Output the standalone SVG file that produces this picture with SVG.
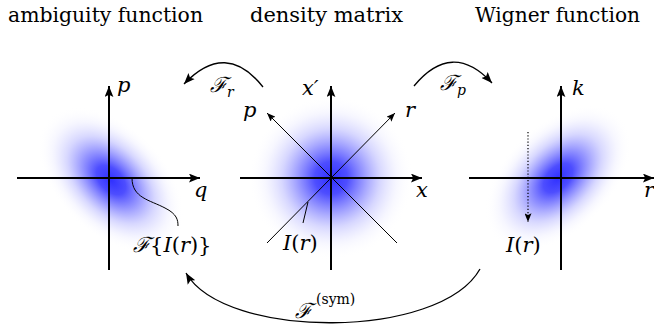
<svg xmlns="http://www.w3.org/2000/svg" width="654" height="327" viewBox="0 0 654 327">
<style>
.title{font-family:'DejaVu Serif',serif;font-size:21px;fill:#000}
.m{font-family:'DejaVu Serif',serif;font-size:21px;font-style:italic;fill:#000}
.up{font-style:normal}
.sub{font-size:14px}
.axis{stroke:#000;stroke-width:2;fill:none}
.thin{stroke:#000;stroke-width:1;fill:none}
.arc{stroke:#000;stroke-width:1.3;fill:none}
</style>
<defs>
<radialGradient id="g">
<stop offset="0" stop-color="#3030ff" stop-opacity="1"/>
<stop offset="0.2" stop-color="#3a3aff" stop-opacity="0.9"/>
<stop offset="0.4" stop-color="#5050ff" stop-opacity="0.58"/>
<stop offset="0.6" stop-color="#7070ff" stop-opacity="0.28"/>
<stop offset="0.8" stop-color="#a0a0ff" stop-opacity="0.09"/>
<stop offset="1" stop-color="#ffffff" stop-opacity="0"/>
</radialGradient>
<marker id="ah" viewBox="0 0 10 8" refX="10" refY="4" markerWidth="11" markerHeight="9" orient="auto" markerUnits="userSpaceOnUse">
<path d="M0,0 L10,4 L0,8 L2,4 Z" fill="#000"/>
</marker>
<marker id="ahs" viewBox="0 0 10 8" refX="10" refY="4" markerWidth="9" markerHeight="7" orient="auto" markerUnits="userSpaceOnUse">
<path d="M0,0 L10,4 L0,8 L2,4 Z" fill="#000"/>
</marker>
</defs>

<g id="titles">
<text class="title" x="8" y="22" textLength="195" lengthAdjust="spacingAndGlyphs">ambiguity function</text>
<text class="title" x="250" y="22" textLength="153" lengthAdjust="spacingAndGlyphs">density matrix</text>
<text class="title" x="475" y="22" textLength="165" lengthAdjust="spacingAndGlyphs">Wigner function</text>
</g>

<g id="ambiguity">
<ellipse cx="111" cy="180" rx="88" ry="54" fill="url(#g)" transform="rotate(45 111 180)"/>
<path class="axis" d="M17,178 H200" marker-end="url(#ah)"/>
<path class="axis" d="M109,270 V86" marker-end="url(#ah)"/>
<path class="thin" d="M132,178 C132,198 150,200 165,208 C177,214 178,220 178,226"/>
<text class="m" x="117" y="92">p</text>
<text class="m" x="194" y="197">q</text>
<text class="m" x="133" y="252">ℱ<tspan class="up">{</tspan>I<tspan class="up">(</tspan>r<tspan class="up">)}</tspan></text>
</g>

<g id="density">
<circle cx="331" cy="178" r="82" fill="url(#g)"/>
<path class="axis" d="M240,178 H422" marker-end="url(#ah)"/>
<path class="axis" d="M331,270 V86" marker-end="url(#ah)"/>
<path class="thin" d="M267,243 L395,113" marker-end="url(#ahs)"/>
<path class="thin" d="M397,243 L267,113" marker-end="url(#ahs)"/>
<path class="thin" d="M308,202 L303,223"/>
<text class="m" x="302" y="95">x′</text>
<text class="m" x="243" y="117">p</text>
<text class="m" x="405" y="117">r</text>
<text class="m" x="416" y="197">x</text>
<text class="m" x="283" y="250">I<tspan class="up">(</tspan>r<tspan class="up">)</tspan></text>
</g>

<g id="wigner">
<ellipse cx="558" cy="178" rx="88" ry="54" fill="url(#g)" transform="rotate(-45 558 178)"/>
<path class="axis" d="M469,178 H654" marker-end="url(#ah)"/>
<path class="axis" d="M561,270 V86" marker-end="url(#ah)"/>
<path d="M528,132 V222" stroke="#000" stroke-width="1.2" stroke-dasharray="1.2,2" fill="none" marker-end="url(#ahs)"/>
<text class="m" x="572" y="95">k</text>
<text class="m" x="644" y="197">r</text>
<text class="m" x="506" y="252">I<tspan class="up">(</tspan>r<tspan class="up">)</tspan></text>
</g>

<g id="connectors">
<path class="arc" d="M263,87 Q226,40 184,84" marker-end="url(#ah)"/>
<path class="arc" d="M414,86 Q452,40 492,83" marker-end="url(#ah)"/>
<path class="arc" d="M480,269 C440,340 225,340 186,273" marker-end="url(#ah)"/>
<text class="m" x="210" y="92">ℱ<tspan class="sub" dy="5">r</tspan></text>
<text class="m" x="440" y="90">ℱ<tspan class="sub" dy="5">p</tspan></text>
<text class="m" x="295" y="318">ℱ</text>
<text class="m sub up" x="316" y="304">(sym)</text>
</g>
</svg>
